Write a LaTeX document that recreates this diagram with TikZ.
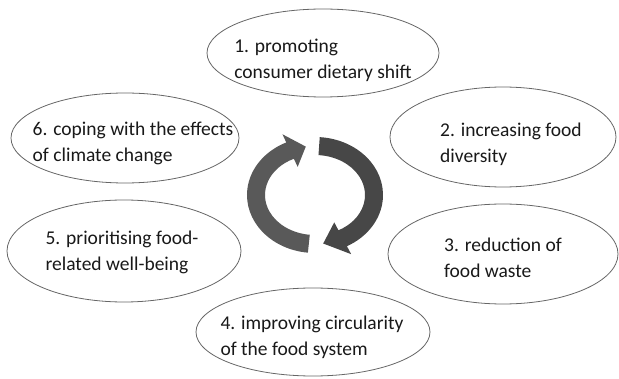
\documentclass[tikz,border=0pt]{standalone}
\usepackage{fontspec}
\setmainfont{Carlito}
\usetikzlibrary{calc,shapes.geometric}
\tikzset{
  bubble/.style={ellipse, draw=black!60, line width=0.8pt, fill=white, inner sep=0pt},
  bubbletext/.style={align=left, inner sep=0pt, text=black!90,
    font=\fontsize{19.5}{26}\selectfont},
  ringarrow/.style={fill=black!65, draw=none}
}
\begin{document}
\begin{tikzpicture}[x=1pt, y=1pt]
  \useasboundingbox (0,0) rectangle (619,378);
  \node[bubble, minimum width=232pt, minimum height=88pt] (e1) at (323,325) {};
  \node[bubble, minimum width=226pt, minimum height=100pt] (e2) at (503,241) {};
  \node[bubble, minimum width=230pt, minimum height=100pt] (e3) at (503,124) {};
  \node[bubble, minimum width=234pt, minimum height=88pt] (e4) at (313,46) {};
  \node[bubble, minimum width=234pt, minimum height=102pt] (e5) at (124,127) {};
  \node[bubble, minimum width=228pt, minimum height=90pt] (e6) at (125,240) {};
  \node[bubbletext] (t1) at ($(e1)+(0,-7)$) {1. promoting\\consumer dietary shift};
  \node[bubbletext] (t2) at ($(e2)+(8,-7.5)$) {2. increasing food\\diversity};
  \node[bubbletext] (t3) at ($(e3)+(0,-3.5)$) {3. reduction of\\food waste};
  \node[bubbletext] (t4) at ($(e4)+(-1,-5.5)$) {4. improving circularity\\of the food system};
  \node[bubbletext] (t5) at ($(e5)+(-2,-1.5)$) {5. prioritising food-\\related well-being};
  \node[bubbletext] (t6) at ($(e6)+(8,-5.5)$) {6. coping with the effects\\of climate change};
  \coordinate (C) at (315,183);
  \begin{scope}[ringarrow]
    \fill ($(C)+(264:68 and 58)$)
      arc[start angle=264, end angle=115, x radius=68, y radius=58]
      -- ($(C)+(115:77 and 67)$) -- ($(C)+(99:59 and 49)$)
      -- ($(C)+(115:41 and 31)$) -- ($(C)+(115:50 and 40)$)
      arc[start angle=115, end angle=264, x radius=50, y radius=40] -- cycle;
    \fill[black!72] ($(C)+(86:68 and 58)$)
      arc[start angle=86, end angle=-62, x radius=68, y radius=58]
      -- ($(C)+(-62:77 and 67)$) -- ($(C)+(-82:59 and 49)$)
      -- ($(C)+(-62:41 and 31)$) -- ($(C)+(-62:50 and 40)$)
      arc[start angle=-62, end angle=86, x radius=50, y radius=40] -- cycle;
  \end{scope}
\end{tikzpicture}
\end{document}
